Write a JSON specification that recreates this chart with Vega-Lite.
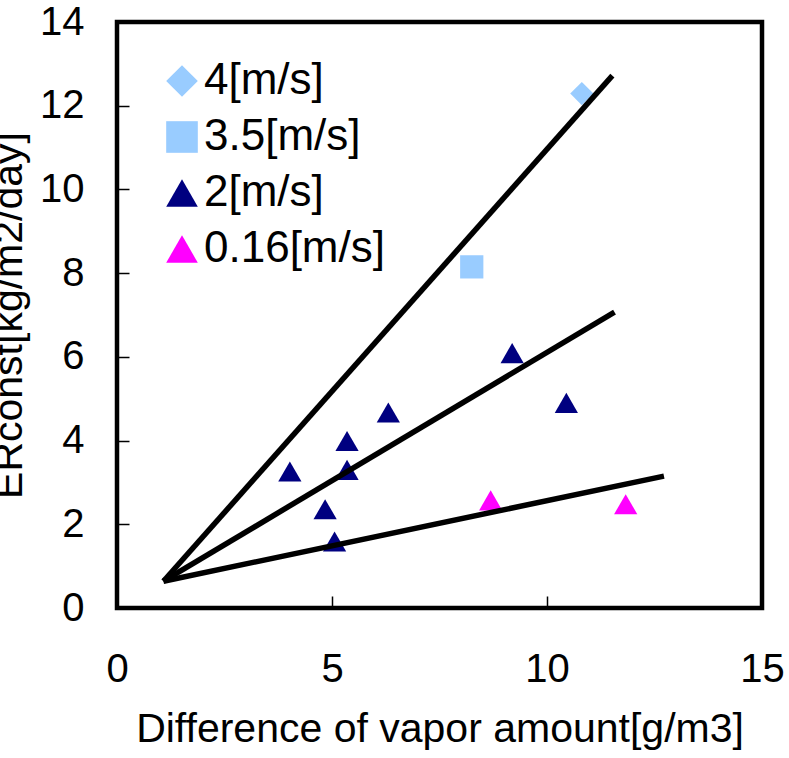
{
  "$schema": "https://vega.github.io/schema/vega-lite/v6.json",
  "width": 645,
  "height": 586,
  "autosize": "none",
  "padding": {"left": 117, "top": 22, "right": 27, "bottom": 150},
  "background": "white",
  "config": {
    "view": {"stroke": "black", "strokeWidth": 4.5},
    "font": "Liberation Sans",
    "axis": {
      "grid": false,
      "domain": false,
      "tickColor": "black",
      "tickWidth": 1.5,
      "tickSize": -12,
      "labelFont": "Liberation Sans",
      "labelFontSize": 40,
      "labelColor": "black",
      "titleFont": "Liberation Sans",
      "titleFontSize": 41,
      "titleFontWeight": "normal",
      "titleColor": "black"
    }
  },
  "datasets": {
    "points": [
      {"series": "4[m/s]", "x": 10.81, "y": 12.29},
      {"series": "3.5[m/s]", "x": 8.25, "y": 8.15},
      {"series": "2[m/s]", "x": 4.02, "y": 3.26},
      {"series": "2[m/s]", "x": 5.35, "y": 3.99},
      {"series": "2[m/s]", "x": 5.35, "y": 3.3},
      {"series": "2[m/s]", "x": 4.84, "y": 2.36},
      {"series": "2[m/s]", "x": 5.06, "y": 1.59},
      {"series": "2[m/s]", "x": 6.31, "y": 4.67},
      {"series": "2[m/s]", "x": 9.19, "y": 6.09},
      {"series": "2[m/s]", "x": 10.45, "y": 4.9},
      {"series": "0.16[m/s]", "x": 8.69, "y": 2.57},
      {"series": "0.16[m/s]", "x": 11.83, "y": 2.48}
    ],
    "lines": [
      {"line": "a", "x": 1.08, "y": 0.64},
      {"line": "a", "x": 11.52, "y": 12.72},
      {"line": "b", "x": 1.08, "y": 0.64},
      {"line": "b", "x": 11.57, "y": 7.07},
      {"line": "c", "x": 1.08, "y": 0.64},
      {"line": "c", "x": 12.72, "y": 3.15}
    ]
  },
  "layer": [
    {
      "data": {"name": "points"},
      "mark": {"type": "point", "filled": true, "opacity": 1, "size": 540, "strokeWidth": 0},
      "encoding": {
        "x": {
          "field": "x", "type": "quantitative",
          "scale": {"domain": [0, 15], "nice": false, "zero": false},
          "axis": {"values": [0, 5, 10, 15], "labelPadding": 53, "title": "Difference of vapor amount[g/m3]", "titlePadding": 20, "labelFlush": false}
        },
        "y": {
          "field": "y", "type": "quantitative",
          "scale": {"domain": [0, 14], "nice": false},
          "axis": {"values": [0, 2, 4, 6, 8, 10, 12, 14], "labelPadding": 45, "title": "ERconst[kg/m2/day]", "titlePadding": 9, "labelFlush": false}
        },
        "shape": {
          "field": "series", "type": "nominal",
          "scale": {"domain": ["4[m/s]", "3.5[m/s]", "2[m/s]", "0.16[m/s]"], "range": ["diamond", "square", "triangle-up", "triangle-up"]},
          "legend": null
        },
        "color": {
          "field": "series", "type": "nominal",
          "scale": {"domain": ["4[m/s]", "3.5[m/s]", "2[m/s]", "0.16[m/s]"], "range": ["#99CCFF", "#99CCFF", "#000080", "#FF00FF"]},
          "legend": {
            "title": null,
            "orient": "none",
            "legendX": 43,
            "legendY": 37,
            "labelFont": "Liberation Sans",
            "labelFontSize": 44,
            "labelLimit": 0,
            "labelColor": "black",
            "symbolSize": 1000,
            "symbolStrokeWidth": 0,
            "rowPadding": 12,
            "labelOffset": 0,
            "symbolType": "triangle-up"
          }
        }
      }
    },
    {
      "data": {"name": "lines"},
      "mark": {"type": "line", "color": "black", "strokeWidth": 5.5},
      "encoding": {
        "x": {"field": "x", "type": "quantitative"},
        "y": {"field": "y", "type": "quantitative"},
        "detail": {"field": "line", "type": "nominal"}
      }
    }
  ]
}
